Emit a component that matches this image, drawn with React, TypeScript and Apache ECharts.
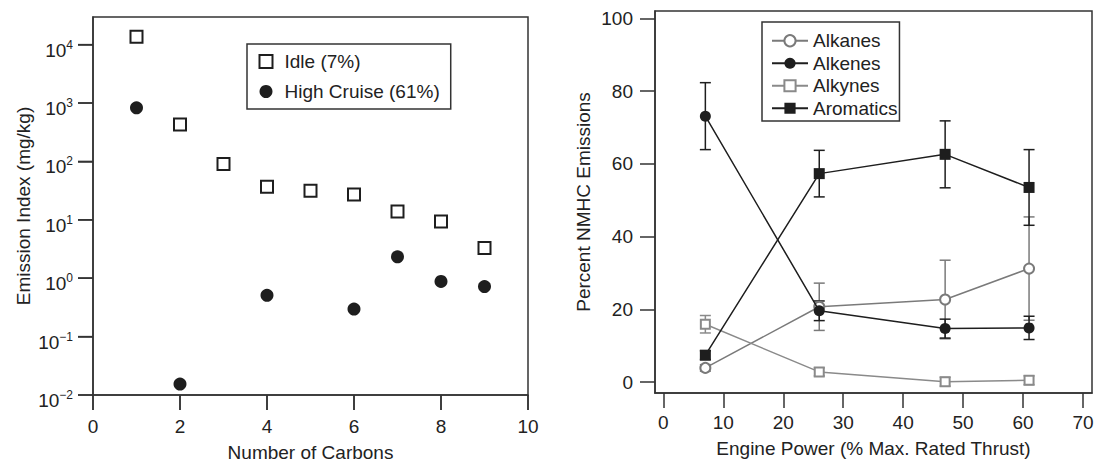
import React, { useEffect, useRef } from 'react';
import * as echarts from 'echarts';

// ---------- Left panel data ----------
const carbons = [1, 2, 3, 4, 5, 6, 7, 8, 9];
const idleEI = [13600, 428, 90, 36.8, 31.5, 27, 13.9, 9.4, 3.3];
const cruiseCarbons = [1, 2, 4, 6, 7, 8, 9];
const cruiseEI = [828, 0.0154, 0.51, 0.296, 2.32, 0.88, 0.72];
const decadeExponents = [-2, -1, 0, 1, 2, 3, 4]; // ticks at 10^-2 ... 10^4
const carbonTicks = [0, 2, 4, 6, 8, 10];
const LEFT_X_MIN = 0;
const LEFT_X_MAX = 10;
const LEFT_Y_MIN = -2;
const LEFT_Y_MAX = 4.473;

// ---------- Right panel data ----------
const enginePower = [7, 26, 47, 61];
const alkanes = [3.9, 20.7, 22.7, 31.2];
const alkanesErr = [0.9, 6.5, 10.8, 14.2];
const alkenes = [73.1, 19.6, 14.7, 14.9];
const alkenesErr = [9.2, 2.7, 2.6, 3.2];
const alkynes = [15.9, 2.8, 0.1, 0.5];
const alkynesErr = [2.4, 1.1, 1.2, 1.2];
const aromatics = [7.4, 57.3, 62.6, 53.5];
const aromaticsErr = [1.2, 6.4, 9.2, 10.4];
const powerTicks = [0, 10, 20, 30, 40, 50, 60, 70];
const pctTicks = [0, 20, 40, 60, 80, 100];

const FONT = "'Liberation Sans', Arial, Helvetica, sans-serif";
const FS = 19;
const TXT = '#222';
const AX = '#333';
const BLACK = '#1e1e1e';
const GRAY1 = '#7a7a7a';
const GRAY2 = '#8a8a8a';
const TICK_LEN = 15;

const pairs = (xs: number[], ys: number[]) => xs.map((x, i) => [x, ys[i]]);
// log10 scale for the emission index axis (values on the axis are decades)
const logPairs = (xs: number[], ys: number[]) => xs.map((x, i) => [x, Math.log10(ys[i])]);

function errSeries(vals: number[], errs: number[], color: string) {
  return {
    type: 'custom',
    xAxisIndex: 1,
    yAxisIndex: 1,
    z: 1,
    silent: true,
    encode: { x: 0, y: [1, 2] },
    data: enginePower.map((x, i) => [x, vals[i] - errs[i], vals[i] + errs[i]]),
    renderItem: (_p: any, api: any) => {
      const x = api.value(0);
      const lo = api.coord([x, api.value(1)]);
      const hi = api.coord([x, api.value(2)]);
      const w = 5.5;
      const st = { stroke: color, lineWidth: 1.5 };
      return {
        type: 'group',
        children: [
          { type: 'line', shape: { x1: lo[0], y1: lo[1], x2: hi[0], y2: hi[1] }, style: st },
          { type: 'line', shape: { x1: lo[0] - w, y1: lo[1], x2: lo[0] + w, y2: lo[1] }, style: st },
          { type: 'line', shape: { x1: hi[0] - w, y1: hi[1], x2: hi[0] + w, y2: hi[1] }, style: st },
        ],
      };
    },
  };
}

// Outward tick marks for the left panel, placed at tick values through the panel's axes
function leftTickSeries(dir: 'x' | 'y') {
  const data =
    dir === 'x'
      ? carbonTicks.map((v) => [v, LEFT_Y_MIN])
      : decadeExponents.map((e) => [LEFT_X_MIN, e]);
  return {
    type: 'scatter',
    xAxisIndex: 0,
    yAxisIndex: 0,
    z: 6,
    silent: true,
    clip: false,
    symbol: 'rect',
    symbolSize: dir === 'x' ? [1.5, TICK_LEN] : [TICK_LEN, 1.5],
    symbolOffset: dir === 'x' ? [0, TICK_LEN / 2] : [-TICK_LEN / 2, 0],
    itemStyle: { color: AX, opacity: 1 },
    emphasis: { disabled: true },
    data,
  };
}

const mkAxisLine = () => ({ show: true, onZero: false, lineStyle: { color: AX, width: 1.5 } });
const mkTick = (custom?: number[]) => {
  const t: any = { show: true, inside: false, length: TICK_LEN, lineStyle: { color: AX, width: 1.5 } };
  if (custom) t.customValues = custom;
  return t;
};
const labelBase = { color: TXT, fontSize: FS, fontFamily: FONT };
const nameStyle = { color: TXT, fontSize: FS, fontFamily: FONT };

function expLabel(e: number) {
  const r = Math.round(e);
  const s = r < 0 ? '\u2212' + String(-r) : String(r);
  return '{b|10}{s|' + s + '}';
}

export default function App() {
  const ref = useRef<HTMLDivElement>(null);
  useEffect(() => {
    if (!ref.current) return;
    const chart = echarts.init(ref.current, undefined, { renderer: 'svg' });
    const option: any = {
      animation: false,
      backgroundColor: '#fff',
      textStyle: { fontFamily: FONT },
      grid: [
        { left: 93, top: 17, width: 435, height: 383, show: true, borderColor: AX, borderWidth: 1.5 },
        { left: 655, top: 11, width: 437, height: 382, show: true, borderColor: AX, borderWidth: 1.5 },
      ],
      xAxis: [
        {
          gridIndex: 0,
          type: 'value',
          min: LEFT_X_MIN,
          max: LEFT_X_MAX,
          axisLine: mkAxisLine(),
          axisTick: mkTick(carbonTicks),
          axisLabel: { ...labelBase, margin: 22, customValues: carbonTicks },
          splitLine: { show: false },
          name: 'Number of Carbons',
          nameLocation: 'middle',
          nameGap: 48,
          nameTextStyle: nameStyle,
        },
        {
          gridIndex: 1,
          type: 'value',
          min: -1.4,
          max: 71.5,
          axisLine: mkAxisLine(),
          axisTick: mkTick(powerTicks),
          axisLabel: { ...labelBase, margin: 20, customValues: powerTicks },
          splitLine: { show: false },
          name: 'Engine Power (% Max. Rated Thrust)',
          nameLocation: 'middle',
          nameGap: 46,
          nameTextStyle: nameStyle,
        },
      ],
      yAxis: [
        {
          gridIndex: 0,
          type: 'value',
          min: LEFT_Y_MIN,
          max: LEFT_Y_MAX,
          axisLine: mkAxisLine(),
          axisTick: mkTick(decadeExponents),
          axisLabel: {
            ...labelBase,
            margin: 20,
            customValues: decadeExponents,
            formatter: (v: number) => expLabel(v),
            rich: {
              b: { fontSize: FS, fontFamily: FONT, color: TXT, lineHeight: 20, verticalAlign: 'bottom' },
              s: { fontSize: 12, fontFamily: FONT, color: TXT, lineHeight: 30 },
            },
          },
          splitLine: { show: false },
          name: 'Emission Index (mg/kg)',
          nameLocation: 'middle',
          nameGap: 60,
          nameTextStyle: nameStyle,
        },
        {
          gridIndex: 1,
          type: 'value',
          min: -3,
          max: 102,
          axisLine: mkAxisLine(),
          axisTick: mkTick(pctTicks),
          axisLabel: { ...labelBase, margin: 22, customValues: pctTicks },
          splitLine: { show: false },
          name: 'Percent NMHC Emissions',
          nameLocation: 'middle',
          nameGap: 62,
          nameTextStyle: nameStyle,
        },
      ],
      legend: [
        {
          data: ['Idle (7%)', 'High Cruise (61%)'],
          orient: 'vertical',
          left: 247,
          top: 44,
          padding: [6.5, 11, 6.5, 11.5],
          itemWidth: 13,
          itemHeight: 13,
          itemGap: 8,
          borderColor: AX,
          borderWidth: 1.5,
          selectedMode: false,
          textStyle: { color: TXT, fontSize: FS, fontFamily: FONT, lineHeight: 22, padding: [0, 0, 0, 7] },
        },
        {
          data: ['Alkanes', 'Alkenes', 'Alkynes', 'Aromatics'],
          orient: 'vertical',
          left: 762,
          top: 22,
          padding: [7.5, 2, 1.5, 9],
          itemWidth: 36,
          itemHeight: 14,
          itemGap: 0,
          borderColor: AX,
          borderWidth: 1.5,
          selectedMode: false,
          textStyle: { color: TXT, fontSize: FS, fontFamily: FONT, lineHeight: 22.5 },
        },
      ],
      series: [
        leftTickSeries('x'),
        leftTickSeries('y'),
        {
          name: 'Idle (7%)',
          type: 'scatter',
          xAxisIndex: 0,
          yAxisIndex: 0,
          symbol: 'emptyRect',
          symbolSize: 12,
          itemStyle: { color: BLACK, borderColor: BLACK, borderWidth: 1.5, opacity: 1 },
          data: logPairs(carbons, idleEI),
          z: 3,
        },
        {
          name: 'High Cruise (61%)',
          type: 'scatter',
          xAxisIndex: 0,
          yAxisIndex: 0,
          symbol: 'circle',
          symbolSize: 13,
          itemStyle: { color: BLACK, opacity: 1 },
          data: logPairs(cruiseCarbons, cruiseEI),
          z: 3,
        },
        errSeries(alkanes, alkanesErr, GRAY1),
        errSeries(alkynes, alkynesErr, GRAY2),
        errSeries(alkenes, alkenesErr, BLACK),
        errSeries(aromatics, aromaticsErr, BLACK),
        {
          name: 'Alkanes',
          type: 'line',
          xAxisIndex: 1,
          yAxisIndex: 1,
          symbol: 'emptyCircle',
          symbolSize: 10,
          lineStyle: { color: GRAY1, width: 1.5 },
          itemStyle: { color: GRAY1, borderColor: GRAY1, borderWidth: 1.3 },
          data: pairs(enginePower, alkanes),
          z: 3,
        },
        {
          name: 'Alkenes',
          type: 'line',
          xAxisIndex: 1,
          yAxisIndex: 1,
          symbol: 'circle',
          symbolSize: 11,
          lineStyle: { color: BLACK, width: 1.5 },
          itemStyle: { color: BLACK },
          data: pairs(enginePower, alkenes),
          z: 4,
        },
        {
          name: 'Alkynes',
          type: 'line',
          xAxisIndex: 1,
          yAxisIndex: 1,
          symbol: 'emptyRect',
          symbolSize: 9,
          lineStyle: { color: GRAY2, width: 1.5 },
          itemStyle: { color: GRAY2, borderColor: GRAY2, borderWidth: 1.3 },
          data: pairs(enginePower, alkynes),
          z: 3,
        },
        {
          name: 'Aromatics',
          type: 'line',
          xAxisIndex: 1,
          yAxisIndex: 1,
          symbol: 'rect',
          symbolSize: 11,
          lineStyle: { color: BLACK, width: 1.5 },
          itemStyle: { color: BLACK },
          data: pairs(enginePower, aromatics),
          z: 4,
        },
      ],
    };
    chart.setOption(option);
    return () => chart.dispose();
  }, []);
  return (
    <div
      ref={ref}
      style={{ position: 'fixed', left: 0, top: 0, width: 1100, height: 467, background: '#fff' }}
    />
  );
}
